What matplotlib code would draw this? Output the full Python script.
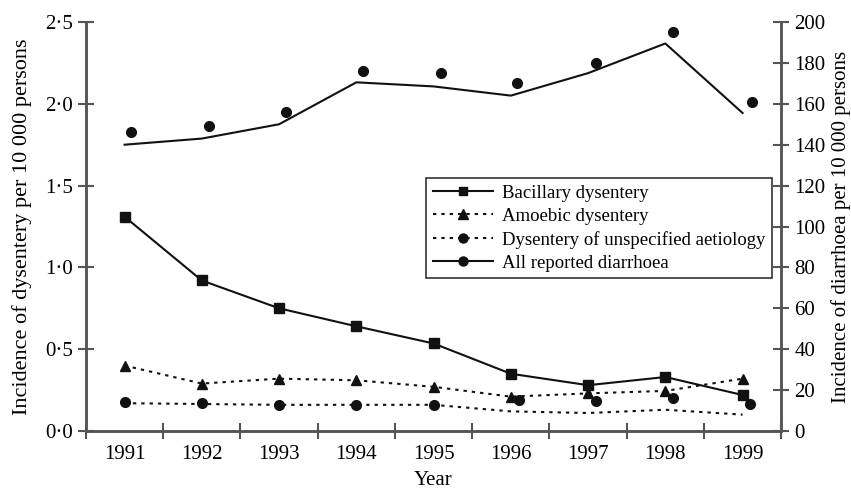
"""Incidence of dysentery and diarrhoea, 1991-1999."""

import matplotlib
matplotlib.use('Agg')
import matplotlib.pyplot as plt
from matplotlib.lines import Line2D
from matplotlib.ticker import FuncFormatter

years = [1991, 1992, 1993, 1994, 1995, 1996, 1997, 1998, 1999]

bacillary = [1.31, 0.92, 0.75, 0.64, 0.535, 0.35, 0.28, 0.33, 0.22]
amoebic = [0.40, 0.29, 0.32, 0.31, 0.27, 0.21, 0.23, 0.245, 0.32]

# unspecified aetiology: line and printed markers do not coincide in the source
unspec_line = [0.17, 0.165, 0.16, 0.16, 0.16, 0.12, 0.11, 0.13, 0.10]
unspec_mark_x = [1991, 1992, 1993, 1994, 1995, 1996.1, 1997.1, 1998.1, 1999.1]
unspec_mark = [0.175, 0.17, 0.16, 0.16, 0.16, 0.19, 0.185, 0.20, 0.165]

# all reported diarrhoea (right axis)
diarr_line = [140, 143, 150, 170.5, 168.5, 164, 175, 189.5, 155.5]
diarr_mark_x = [1991.08, 1992.09, 1993.09, 1994.09, 1995.09, 1996.08, 1997.1, 1998.1, 1999.12]
diarr_mark = [146, 149, 156, 176, 175, 170, 180, 195, 161]

labels = ['Bacillary dysentery', 'Amoebic dysentery',
          'Dysentery of unspecified aetiology', 'All reported diarrhoea']

plt.rcParams['font.family'] = ['Liberation Serif', 'DejaVu Serif']

ink = '#111111'
axis_col = '#555555'
dots = (0, (1.6, 2.4))

fig = plt.figure(figsize=(8.51, 4.90), dpi=100)
ax = fig.add_axes([0.101, 0.1204, 0.817, 0.8347])
ax2 = ax.twinx()

ax.plot(years, bacillary, color=ink, lw=1.5, marker='s', ms=6.5)
ax.plot(years, amoebic, color=ink, lw=1.5, ls=dots, marker='^', ms=7.5)
ax.plot(years, unspec_line, color=ink, lw=1.5, ls=dots)
ax.plot(unspec_mark_x, unspec_mark, color=ink, ls='none', marker='o', ms=7)
ax2.plot(years, diarr_line, color=ink, lw=1.5)
ax2.plot(diarr_mark_x, diarr_mark, color=ink, ls='none', marker='o', ms=7)

ax.set_xlim(1990.5, 1999.5)
ax.set_ylim(0, 2.5)
ax2.set_ylim(0, 200)

ax.set_xticks(years)
ax.set_xticklabels([str(y) for y in years])
ax.set_xticks([y + 0.5 for y in [1990] + years], minor=True)
ax.tick_params(axis='x', which='major', length=0, pad=10, labelsize=15)
ax.tick_params(axis='x', which='minor', direction='inout', length=11,
               width=1.5, color=axis_col)

ax.set_yticks([0, 0.5, 1.0, 1.5, 2.0, 2.5])
ax.yaxis.set_major_formatter(FuncFormatter(lambda v, p: f'{v:.1f}'.replace('.', '\u00b7')))
ax.tick_params(axis='y', direction='inout', length=11, width=1.5,
               color=axis_col, labelsize=15, pad=4)
ax2.set_yticks(range(0, 201, 20))
ax2.tick_params(axis='y', direction='inout', length=11, width=1.5,
                color=axis_col, labelsize=15, pad=4)

for a in (ax, ax2):
    a.spines['top'].set_visible(False)
    for s in ('left', 'right', 'bottom'):
        a.spines[s].set_color(axis_col)
        a.spines[s].set_linewidth(1.8)

ax.set_xlabel('Year', fontsize=15, labelpad=5)
ax.set_ylabel('Incidence of dysentery per 10 000 persons', fontsize=16, labelpad=9)
ax2.set_ylabel('Incidence of diarrhoea per 10 000 persons', fontsize=15, labelpad=4)

handles = [
    Line2D([], [], color=ink, lw=1.5, marker='s', ms=6),
    Line2D([], [], color=ink, lw=1.5, ls=dots, marker='^', ms=6.5),
    Line2D([], [], color=ink, lw=1.5, ls=dots, marker='o', ms=6.5),
    Line2D([], [], color=ink, lw=1.5, marker='o', ms=6.5),
]
leg = ax.legend(handles, labels, loc='upper right', bbox_to_anchor=(0.987, 0.619),
                borderaxespad=0, fontsize=13.5, handlelength=3.2, handletextpad=0.5,
                labelspacing=0.32, borderpad=0.35, fancybox=False, framealpha=1,
                edgecolor='#333333')
leg.get_frame().set_linewidth(1.2)
leg.set_zorder(5)

plt.savefig('out.png', dpi=100)
